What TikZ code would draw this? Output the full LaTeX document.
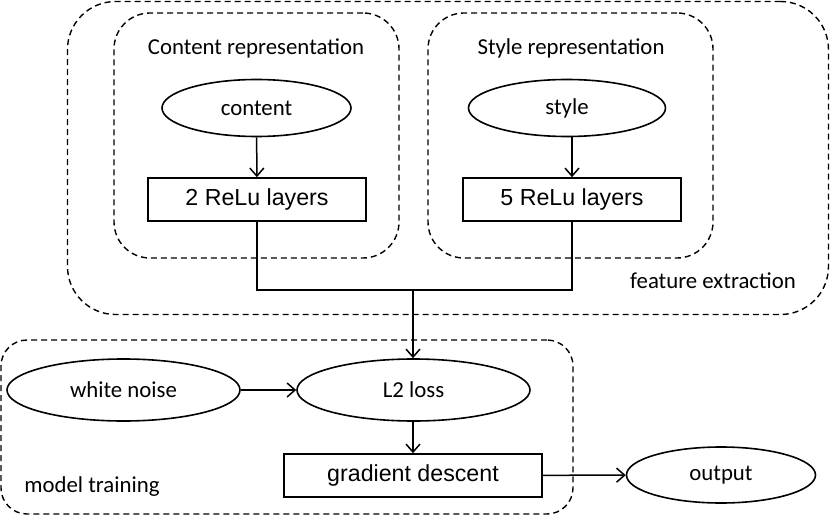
\documentclass[tikz,border=0pt]{standalone}
\usepackage{fontspec}
\setmainfont{Carlito}
\newfontfamily\arialfont{Liberation Sans}
\usetikzlibrary{shapes.geometric,arrows.meta}
\begin{document}
\begin{tikzpicture}[x=1pt,y=-1pt,
  every node/.style={font=\fontsize{22.8}{27}\selectfont},
  group/.style={draw,dashed,dash pattern=on 6pt off 4pt,line width=1.4pt,rounded corners=#1,inner sep=0pt},
  oval/.style={draw,ellipse,line width=1.6pt,inner sep=0pt,minimum height=57pt},
  layerbox/.style={draw,rectangle,line width=1.6pt,inner sep=0pt,minimum height=43pt,font=\arialfont\fontsize{23.2}{27}\selectfont},
  lbl/.style={inner sep=0pt},
  conn/.style={line width=1.5pt},
  arr/.style={conn,-{Straight Barb[length=8pt,width=14pt,line width=1.5pt]}}
]
\useasboundingbox (0,0) rectangle (830,516);
% groups
\node[group=48pt,minimum width=761pt,minimum height=313pt] (fe) at (448,158) {};
\node[group=36pt,minimum width=285pt,minimum height=245pt] (cr) at (256.5,135.5) {};
\node[group=36pt,minimum width=285pt,minimum height=245pt] (sr) at (570.5,135.5) {};
\node[group=26pt,minimum width=572pt,minimum height=174pt] (mt) at (287,427) {};
% labels
\node[lbl] (crl) at (256,48) {Content representation};
\node[lbl] (srl) at (571,48) {Style representation};
\node[lbl] (fel) at (713,281) {feature extraction};
\node[lbl] (mtl) at (92,487) {model training};
% nodes
\node[oval,minimum width=189pt] (content) at (256.5,108) {content};
\node[oval,minimum width=197pt] (style) at (567,108) {style};
\node[layerbox,minimum width=218pt] (relu2) at (257,199.5) {2 ReLu layers};
\node[layerbox,minimum width=218pt] (relu5) at (572,199.5) {5 ReLu layers};
\node[oval,minimum width=233pt,minimum height=62pt] (noise) at (123.5,390) {white noise};
\node[oval,minimum width=233pt,minimum height=62pt] (loss) at (413.5,390) {L2 loss};
\node[layerbox,minimum width=258pt] (gd) at (413,475.5) {gradient descent};
\node[oval,minimum width=189pt,minimum height=56pt] (out) at (721,475) {output};
\coordinate (j) at (413,290);
% connectors
\draw[arr] (content) -- (relu2);
\draw[arr] (style.south -| relu5) -- (relu5);
\draw[conn] (relu2.south) |- (j);
\draw[conn] (relu5.south) |- (j);
\draw[arr] (j) -- (loss.north -| j);
\draw[arr] (noise) -- (loss);
\draw[arr] (loss.south -| gd) -- (gd);
\draw[arr] (gd) -- (out);
\end{tikzpicture}
\end{document}
